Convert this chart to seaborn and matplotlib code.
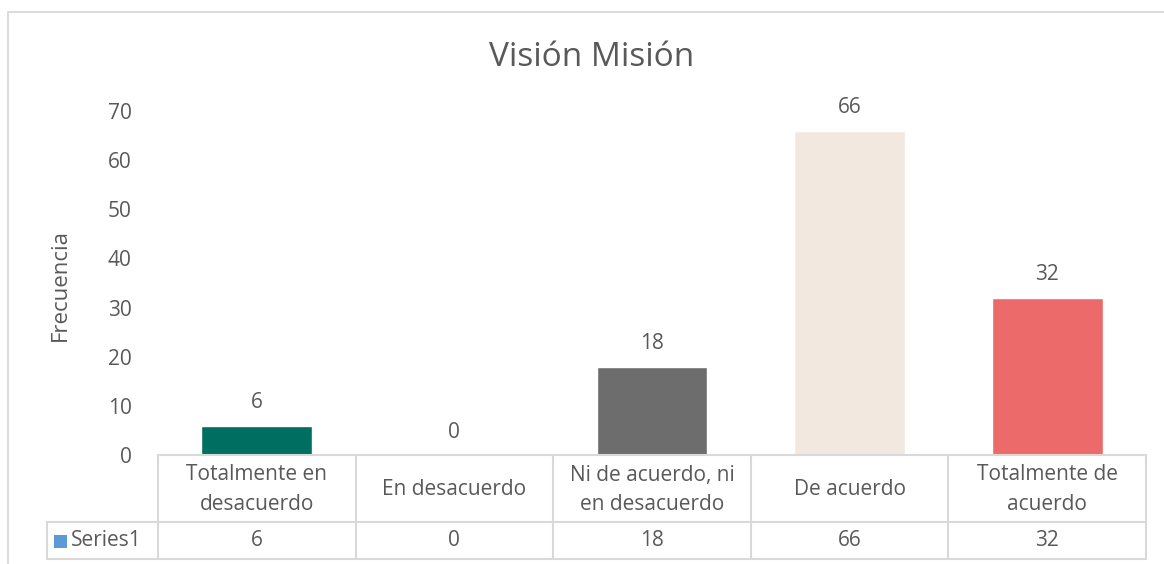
import matplotlib
matplotlib.use("Agg")
import matplotlib.pyplot as plt
import seaborn as sns
import pandas as pd
from matplotlib.lines import Line2D
from matplotlib.patches import Rectangle

categories = ["Totalmente en\ndesacuerdo", "En desacuerdo", "Ni de acuerdo, ni\nen desacuerdo",
              "De acuerdo", "Totalmente de\nacuerdo"]
values = [6, 0, 18, 66, 32]
bar_colors = ["#006E61", "#5B9BD5", "#6D6D6D", "#F2E8DF", "#ED6A6B"]
series_name = "Series1"
title = "Visión Misión"
ylabel = "Frecuencia"
yticks = [0, 10, 20, 30, 40, 50, 60, 70]

sns.set_theme(style="white")
plt.rcParams["font.family"] = ["Open Sans", "DejaVu Sans"]
TXT = "#595959"
GRID = "#D9D9D9"
FS = 15

W, H = 1164, 564
fig = plt.figure(figsize=(W / 100, H / 100), dpi=100)

def fx(px):
    return px / W

def fy(py):
    return 1 - py / H

x0, x1 = 158, 1146
y_top, y_bot = 111, 455
ax = fig.add_axes([fx(x0), fy(y_bot), fx(x1) - fx(x0), fy(y_top) - fy(y_bot)])

df = pd.DataFrame({"cat": categories, "val": values})
sns.barplot(data=df, x="cat", y="val", hue="cat", palette=bar_colors, legend=False,
            width=0.56, ax=ax, saturation=1)
ax.set_xlim(-0.5, len(categories) - 0.5)
ax.set_ylim(0, 70)
ax.set_yticks(yticks)
ax.set_yticklabels([str(t) for t in yticks], color=TXT, fontsize=FS)
ax.tick_params(axis="y", length=0, pad=19)
ax.set_xticks([])
ax.set_xlabel("")
ax.set_ylabel("")
for s in ax.spines.values():
    s.set_visible(False)

# data labels
for i, v in enumerate(values):
    ax.annotate(str(v), (i, v), xytext=(0, 9), textcoords="offset points",
                ha="center", va="bottom", color=TXT, fontsize=FS, annotation_clip=False)

# title and y label
fig.text(fx(592), fy(57), title, ha="center", va="center", color=TXT, fontsize=24)
fig.text(fx(60), fy(285), ylabel, ha="center", va="center", rotation=90, color=TXT, fontsize=16)

# outer chart border
fig.add_artist(Rectangle((fx(8), fy(H + 20)), fx(W + 20) - fx(8), fy(12) - fy(H + 20),
                         transform=fig.transFigure, fill=False, edgecolor=GRID, lw=1.3))

# data table
row1, row2 = 522, 559
leg_left = 47
n = len(categories)
cw = (x1 - x0) / n

def hline(xa, xb, y):
    fig.add_artist(Line2D([fx(xa), fx(xb)], [fy(y), fy(y)], transform=fig.transFigure,
                          color=GRID, lw=1.5))

def vline(x, ya, yb):
    fig.add_artist(Line2D([fx(x), fx(x)], [fy(ya), fy(yb)], transform=fig.transFigure,
                          color=GRID, lw=1.5))

hline(x0, x1, y_bot)
hline(leg_left, x1, row1)
hline(leg_left, x1, row2)
for k in range(n + 1):
    vline(x0 + k * cw, y_bot, row2)
vline(leg_left, row1, row2)

for i, (c, v) in enumerate(zip(categories, values)):
    cx = x0 + (i + 0.5) * cw
    fig.text(fx(cx), fy((y_bot + row1) / 2 + 1), c, ha="center", va="center", color=TXT,
             fontsize=FS, linespacing=1.5)
    fig.text(fx(cx), fy((row1 + row2) / 2), str(v), ha="center", va="center", color=TXT,
             fontsize=FS)

# legend key
fig.add_artist(Rectangle((fx(54), fy(548)), fx(13), fy(535) - fy(548),
                         transform=fig.transFigure, facecolor="#5B9BD5", edgecolor="none"))
fig.text(fx(71), fy((row1 + row2) / 2), series_name, ha="left", va="center", color=TXT, fontsize=FS)

fig.savefig("out.png", dpi=100)
